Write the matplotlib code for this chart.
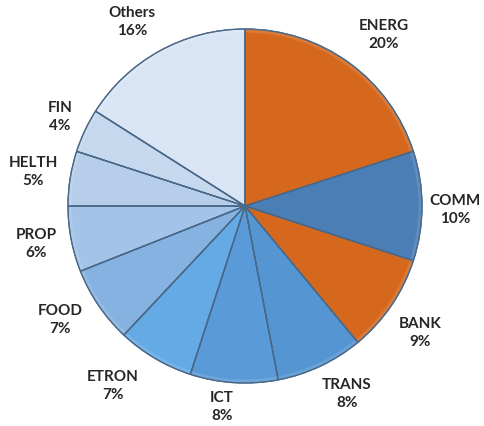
import matplotlib.pyplot as plt
from matplotlib.patches import Wedge

# DATA
sectors = ["ENERG", "COMM", "BANK", "TRANS", "ICT", "ETRON",
           "FOOD", "PROP", "HELTH", "FIN", "Others"]
shares = [20, 10, 9, 8, 8, 7, 7, 6, 5, 4, 16]

# STYLE
colors = ["#D6681E", "#4A7EB4", "#D6681E", "#5596D2", "#5A9AD8", "#64AAE4",
          "#86B2E1", "#A3C3E8", "#B6CEEA", "#C6D8EE", "#D9E5F5"]
EDGE = "#4A6888"
TXT = "#262626"

W, H, DPI = 485, 426, 100
CX, CY, R = 245, 206, 177   # pie centre / radius in pixels (from top-left)

# label centres in pixels (Excel best-fit placement)
label_px = [(384, 35), (455, 210), (420, 333), (347, 394), (222, 407),
            (113, 386), (60, 320), (36, 244), (33, 172), (60, 117), (132, 22)]


def px2data(px, py):
    return (px - CX) / R, (CY - py) / R


fig = plt.figure(figsize=(W / DPI, H / DPI), dpi=DPI)
ax = fig.add_axes([0, 0, 1, 1])

wedges, _ = ax.pie(shares, colors=colors, startangle=90, counterclock=False,
                   radius=1, wedgeprops=dict(edgecolor=EDGE, linewidth=0.9))

# faint bevel highlight along the rim of each slice
for w in wedges:
    ax.add_patch(Wedge((0, 0), 1, w.theta1, w.theta2, width=0.02,
                       facecolor="white", alpha=0.12, linewidth=0))
    ax.add_patch(Wedge((0, 0), 1, w.theta1, w.theta2, facecolor="none",
                       edgecolor=EDGE, linewidth=0.9))

ax.set_xlim(-CX / R, (W - CX) / R)
ax.set_ylim(-(H - CY) / R, CY / R)
ax.set_aspect("equal")
ax.axis("off")

for name, val, (px, py) in zip(sectors, shares, label_px):
    x, y = px2data(px, py)
    ax.text(x, y, f"{name}\n{val}%", ha="center", va="center",
            fontsize=11, fontweight="bold", family=["Lato", "DejaVu Sans"],
            color=TXT, linespacing=1.3)

fig.savefig("out.png", dpi=DPI)
